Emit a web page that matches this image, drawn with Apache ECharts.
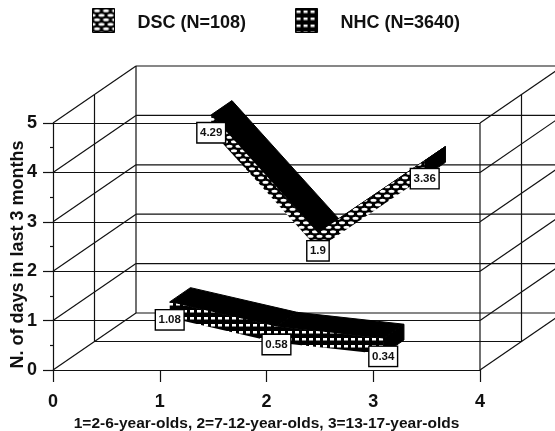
<!DOCTYPE html>
<html>
<head>
<meta charset="utf-8">
<style>html,body{margin:0;padding:0;background:#fff}#c{width:555px;height:431px}</style>
<script src="https://cdn.jsdelivr.net/npm/echarts@6/dist/echarts.min.js"></script>
</head>
<body>
<div id="c"></div>
<script>
var ageGroups = [1, 2, 3];
var dscValues = [4.29, 1.9, 3.36];
var nhcValues = [1.08, 0.58, 0.34];
var dscName = 'DSC (N=108)';
var nhcName = 'NHC (N=3640)';
var wallLevels = [0, 1, 2, 3, 4, 5];
var xTitle = '1=2-6-year-olds, 2=7-12-year-olds, 3=13-17-year-olds';
var yTitle = 'N. of days in last 3 months';

var FONT = '"Liberation Sans", Arial, sans-serif';
var INK = '#111';
var depthX = 83 / 106.75, depthY = 57 / 49.4;
var halfThick = 0.16;

function project(api, x, v, z) {
  return api.coord([x + z * depthX, v + z * depthY]);
}
function tile(size, draw) {
  var cv = document.createElement('canvas');
  cv.width = size; cv.height = size;
  var g = cv.getContext('2d');
  g.fillStyle = '#000'; g.fillRect(0, 0, size, size);
  g.fillStyle = '#fff';
  draw(g);
  return { image: cv, repeat: 'repeat' };
}
function ell(g, x, y, rx, ry) {
  g.beginPath(); g.ellipse(x, y, rx, ry, 0, 0, Math.PI * 2); g.fill();
}
var dscPattern = tile(9, function (g) {
  ell(g, 4.5, 2.25, 3, 1.5); ell(g, 0, 6.75, 3, 1.5); ell(g, 9, 6.75, 3, 1.5);
});
var nhcPattern = tile(7, function (g) {
  g.fillRect(1, 2, 4, 2.5);
});

function wallRender(params, api) {
  var segs = [];
  function seg(a, b) {
    segs.push({ type: 'line', shape: { x1: a[0], y1: a[1], x2: b[0], y2: b[1] },
      style: { stroke: INK, lineWidth: 1.2 }, silent: true });
  }
  wallLevels.forEach(function (v) {
    seg(project(api, 0, v, 1), project(api, 4, v, 1));
    seg(project(api, 0, v, 0), project(api, 0, v, 1));
    seg(project(api, 4, v, 0), project(api, 4, v, 1));
  });
  [0.5, 1].forEach(function (z) {
    seg(project(api, 0, 0, z), project(api, 0, 5, z));
    seg(project(api, 4, 0, z), project(api, 4, 5, z));
  });
  seg(project(api, 4, 0, 0), project(api, 4, 5, 0));
  seg(project(api, 0, 0, 0.5), project(api, 4, 0, 0.5));
  return { type: 'group', children: segs };
}

function ribbonRender(values, z0, z1, pattern) {
  return function (params, api) {
    if (params.dataIndex !== 0) return { type: 'group', children: [] };
    var kids = [];
    var n = values.length;
    function poly(points, fill) {
      kids.push({ type: 'polygon', shape: { points: points },
        style: { fill: fill, stroke: fill === '#000' ? '#000' : null, lineWidth: 1 }, silent: true });
    }
    var ft = [], fb = [], bt = [];
    for (var i = 0; i < n; i++) {
      ft.push(project(api, ageGroups[i], values[i] + halfThick, z0));
      fb.push(project(api, ageGroups[i], values[i] - halfThick, z0));
      bt.push(project(api, ageGroups[i], values[i] + halfThick, z1));
    }
    var bb = project(api, ageGroups[n - 1], values[n - 1] - halfThick, z1);
    poly([ft[n - 1], bt[n - 1], bb, fb[n - 1]], '#000');
    for (var k = 0; k < n - 1; k++) {
      poly([ft[k], ft[k + 1], bt[k + 1], bt[k]], '#000');
    }
    poly(ft.concat(fb.slice().reverse()), pattern);
    return { type: 'group', children: kids };
  };
}

function labelRender(values, z) {
  return function (params, api) {
    var i = params.dataIndex;
    var p = project(api, ageGroups[i], values[i], z);
    return {
      type: 'text', x: p[0], y: p[1] + 0.5, silent: true,
      style: {
        text: String(values[i]), align: 'center', verticalAlign: 'top',
        font: 'bold 11.5px ' + FONT, fill: '#111',
        backgroundColor: '#fff', borderColor: '#000', borderWidth: 1.4,
        padding: [4, 2.5, 3, 2.5]
      }
    };
  };
}

function customSeries(name, render, z, data) {
  var s = { type: 'custom', coordinateSystem: 'cartesian2d', renderItem: render,
    data: data, z: z, animation: false, silent: true, encode: { x: 0, y: 1 } };
  if (name) s.name = name;
  return s;
}
function pairs(values) {
  return ageGroups.map(function (a, i) { return [a, values[i]]; });
}

var chart = echarts.init(document.getElementById('c'), null, { renderer: 'canvas' });
var dscSeries = customSeries(dscName, ribbonRender(dscValues, 0.62, 0.87, dscPattern), 3, pairs(dscValues));
dscSeries.itemStyle = { color: dscPattern };
var nhcSeries = customSeries(nhcName, ribbonRender(nhcValues, 0.12, 0.37, nhcPattern), 3, pairs(nhcValues));
nhcSeries.itemStyle = { color: nhcPattern };

chart.setOption({
  animation: false,
  backgroundColor: '#fff',
  legend: {
    left: 92, top: 8, padding: 0, itemWidth: 22, itemHeight: 24, itemGap: 49,
    icon: 'rect', selectedMode: false,
    formatter: '{t|{name}}',
    data: [
      { name: dscName, itemStyle: { color: dscPattern, borderColor: '#000', borderWidth: 1 } },
      { name: nhcName, itemStyle: { color: nhcPattern, borderColor: '#000', borderWidth: 1 } }
    ],
    textStyle: {
      color: INK,
      rich: { t: { fontFamily: FONT, fontWeight: 'bold', fontSize: 18, color: INK, padding: [5, 0, 0, 18] } }
    }
  },
  grid: { left: 53, right: 75, top: 123, bottom: 61, containLabel: false, outerBoundsMode: 'none' },
  xAxis: {
    type: 'value', min: 0, max: 4, interval: 1,
    name: xTitle, nameLocation: 'middle', nameGap: 46, nameMoveOverlap: false,
    nameTextStyle: { fontFamily: FONT, fontWeight: 'bold', fontSize: 15.5, color: INK },
    axisLine: { show: true, onZero: false, lineStyle: { color: INK, width: 1.2 } },
    axisTick: { show: true, length: 12, lineStyle: { color: INK, width: 1.2 } },
    axisLabel: { margin: 23, fontFamily: FONT, fontWeight: 'bold', fontSize: 18, color: INK },
    splitLine: { show: false }
  },
  yAxis: {
    type: 'value', min: 0, max: 5, interval: 1,
    name: yTitle, nameLocation: 'middle', nameGap: 26, nameRotate: 90, nameMoveOverlap: false,
    nameTextStyle: { fontFamily: FONT, fontWeight: 'bold', fontSize: 18, color: INK, padding: [0, 16, 0, 0] },
    axisLine: { show: true, onZero: false, lineStyle: { color: INK, width: 1.2 } },
    axisTick: { show: true, length: 10, lineStyle: { color: INK, width: 1.2 } },
    minorTick: { show: true, splitNumber: 2, length: 3, lineStyle: { color: INK, width: 1.2 } },
    axisLabel: { margin: 16, padding: [5, 0, 0, 0], fontFamily: FONT, fontWeight: 'bold', fontSize: 18, color: INK },
    splitLine: { show: true, lineStyle: { color: INK, width: 1.2 } }
  },
  series: [
    customSeries(null, wallRender, 1, [[0, 0]]),
    nhcSeries,
    dscSeries,
    customSeries(null, labelRender(nhcValues, 0.12), 5, pairs(nhcValues)),
    customSeries(null, labelRender(dscValues, 0.62), 5, pairs(dscValues))
  ]
});
</script>
</body>
</html>
